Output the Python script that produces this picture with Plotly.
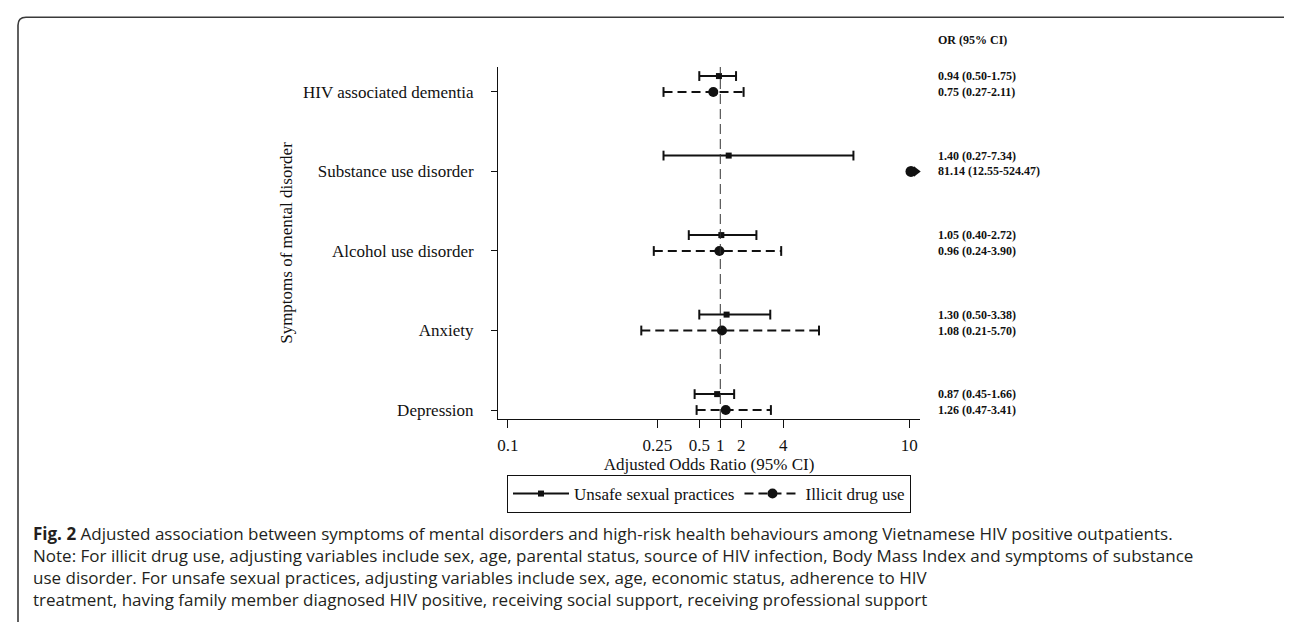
import numpy as np
import plotly.graph_objects as go

# ---------------- data ----------------
categories = ["Depression", "Anxiety", "Alcohol use disorder",
              "Substance use disorder", "HIV associated dementia"]
unsafe_or = [0.87, 1.30, 1.05, 1.40, 0.94]
unsafe_lo = [0.45, 0.50, 0.40, 0.27, 0.50]
unsafe_hi = [1.66, 3.38, 2.72, 7.34, 1.75]
illicit_or = [1.26, 1.08, 0.96, 81.14, 0.75]
illicit_lo = [0.47, 0.21, 0.24, 12.55, 0.27]
illicit_hi = [3.41, 5.70, 3.90, 524.47, 2.11]
series_names = ["Unsafe sexual practices", "Illicit drug use"]
tick_values = [0.09, 0.25, 0.5, 1, 2, 4, 10]
tick_labels = ["0.1", "0.25", "0.5", "1", "2", "4", "10"]
caption_lines = [
    "<b>Fig. 2</b> Adjusted association between symptoms of mental disorders and high-risk health behaviours among Vietnamese HIV positive outpatients.",
    "Note: For illicit drug use, adjusting variables include sex, age, parental status, source of HIV infection, Body Mass Index and symptoms of substance",
    "use disorder. For unsafe sexual practices, adjusting variables include sex, age, economic status, adherence to HIV",
    "treatment, having family member diagnosed HIV positive, receiving social support, receiving professional support",
]

# ---------------- scale (symmetric odds-ratio scale) ----------------
def sym(v):
    v = np.asarray(v, dtype=float)
    return np.where(v >= 1, v - 1, 1 - 1 / v)

W, H = 1292, 622
L, R, T, B = 490, 912, 59, 411
X_RANGE = [-10.585, 9.51]
Y_RANGE = [0.887, 5.314]
X_EDGE = 9.08          # where off-scale estimates are parked (arrow)
OFFSET = 0.2           # vertical offset of the unsafe-sex row
SERIF = "Liberation Serif, Times New Roman, serif"
INK = "#111111"

def px2paper_x(px):
    return (px - L) / (R - L)

def px2paper_y(py):
    return (B - py) / (B - T)

ypos = np.arange(1, len(categories) + 1, dtype=float)

fig = go.Figure()

def add_series(orv, lo, hi, yy, dash, symbol, msize, name):
    xs, ys = [], []
    for a, b, y in zip(sym(lo), sym(hi), yy):
        xs += [a, b, None]
        ys += [y, y, None]
    fig.add_trace(go.Scatter(x=xs, y=ys, mode="lines", showlegend=False,
                             line=dict(color=INK, width=2, dash=dash),
                             hoverinfo="skip", cliponaxis=True))
    capx = list(sym(lo)) + list(sym(hi))
    capy = list(yy) + list(yy)
    fig.add_trace(go.Scatter(x=capx, y=capy, mode="markers", showlegend=False,
                             marker=dict(symbol="line-ns", size=7,
                                         line=dict(color=INK, width=2)),
                             hoverinfo="skip", cliponaxis=True))
    pts = sym(orv)
    inside = pts <= X_RANGE[1]
    fig.add_trace(go.Scatter(x=pts[inside], y=np.asarray(yy)[inside], mode="markers",
                             showlegend=False,
                             marker=dict(symbol=symbol, size=msize, color=INK),
                             cliponaxis=True))
    if (~inside).any():
        oy = np.asarray(yy)[~inside]
        fig.add_trace(go.Scatter(x=np.full(oy.shape, X_EDGE), y=oy, mode="markers",
                                 showlegend=False,
                                 marker=dict(symbol=symbol, size=msize + 1, color=INK),
                                 cliponaxis=False))
        fig.add_trace(go.Scatter(x=np.full(oy.shape, X_EDGE + 0.25), y=oy, mode="markers",
                                 showlegend=False,
                                 marker=dict(symbol="triangle-right", size=9, color=INK),
                                 cliponaxis=False))
    # legend entry
    fig.add_trace(go.Scatter(x=[None], y=[None], mode="lines+markers", name=name,
                             line=dict(color=INK, width=2, dash=dash),
                             marker=dict(symbol=symbol, size=msize, color=INK)))

add_series(unsafe_or, unsafe_lo, unsafe_hi, ypos + OFFSET, "solid", "square", 6,
           series_names[0])
add_series(illicit_or, illicit_lo, illicit_hi, ypos, "9px,5px", "circle", 10,
           series_names[1])

# reference line at OR = 1
fig.add_shape(type="line", xref="x", yref="paper", x0=float(sym(1)), x1=float(sym(1)),
              y0=0, y1=1, line=dict(color="#333333", width=1, dash="10px,5px"))

# OR (95% CI) text column
ann = []
ann.append(dict(text="<b>OR (95% CI)</b>", xref="paper", yref="paper",
                x=px2paper_x(928), y=px2paper_y(31.7), xanchor="left", yanchor="middle",
                showarrow=False, font=dict(family=SERIF, size=12, color=INK)))
for orv, lo, hi, yy in [(unsafe_or, unsafe_lo, unsafe_hi, ypos + OFFSET),
                        (illicit_or, illicit_lo, illicit_hi, ypos)]:
    for o, a, b, y in zip(orv, lo, hi, yy):
        ann.append(dict(text=f"<b>{o:.2f} ({a:.2f}-{b:.2f})</b>", xref="paper", yref="y",
                        x=px2paper_x(928), y=y, xanchor="left", yanchor="middle",
                        showarrow=False, font=dict(family=SERIF, size=12, color=INK)))

# caption (one multi-line text block)
ann.append(dict(text="<br>".join(caption_lines), xref="paper", yref="paper",
                x=px2paper_x(24), y=px2paper_y(558.6), xanchor="left", yanchor="middle",
                align="left", showarrow=False, borderpad=0,
                font=dict(family="Open Sans, sans-serif", size=17, color="#231f20")))

# outer rounded frame
x0, x1, y0, y1, r = 10, 1291, 9.3, 660, 8
X = px2paper_x
Y = px2paper_y
path = (f"M {X(x0)},{Y(y1)} L {X(x0)},{Y(y0 + r)} Q {X(x0)},{Y(y0)} {X(x0 + r)},{Y(y0)} "
        f"L {X(x1 - r)},{Y(y0)} Q {X(x1)},{Y(y0)} {X(x1)},{Y(y0 + r)} L {X(x1)},{Y(y1)}")
fig.add_shape(type="path", xref="paper", yref="paper", path=path,
              line=dict(color="#3a3a3a", width=1.6))

fig.update_layout(
    width=W, height=H, autosize=False,
    margin=dict(l=L, r=W - R, t=T, b=H - B, pad=0),
    paper_bgcolor="white", plot_bgcolor="white",
    font=dict(family=SERIF, size=17, color=INK),
    showlegend=True,
    legend=dict(orientation="h", x=0.5, xanchor="center", y=px2paper_y(467),
                yanchor="top", bordercolor=INK, borderwidth=1,
                font=dict(family=SERIF, size=17, color=INK),
                itemwidth=56, entrywidth=0),
    annotations=ann,
)
fig.update_xaxes(range=X_RANGE, tickvals=list(sym(tick_values)), ticktext=tick_labels,
                 showline=True, linecolor=INK, linewidth=1, ticks="outside", ticklen=8,
                 tickwidth=1, tickcolor=INK, showgrid=False, zeroline=False,
                 ticklabelstandoff=3,
                 title=dict(text="Adjusted Odds Ratio (95% CI)", standoff=2,
                            font=dict(family=SERIF, size=17)))
fig.update_yaxes(range=Y_RANGE, tickvals=list(ypos), ticktext=categories,
                 showline=True, linecolor=INK, linewidth=1, ticks="outside", ticklen=6,
                 tickwidth=1, tickcolor=INK, showgrid=False, zeroline=False,
                 ticklabelstandoff=14,
                 title=dict(text="Symptoms of mental disorder", standoff=6,
                            font=dict(family=SERIF, size=17)))

fig.write_html("out.html")
